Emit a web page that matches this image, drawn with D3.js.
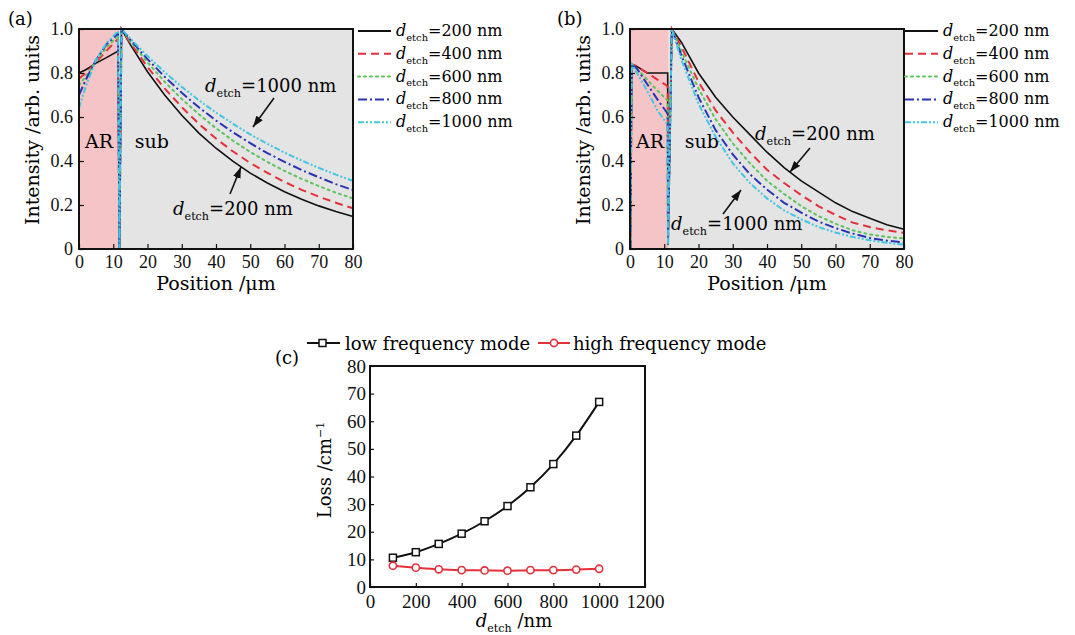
<!DOCTYPE html>
<html>
<head>
<meta charset="utf-8">
<script src="https://cdn.jsdelivr.net/npm/d3@7"></script>
<style>
body { margin: 0; background: #fff; }
</style>
</head>
<body>
<div id="chart"></div>
<script>
//---------------- data ----------------
//legend entries (etch depth)
var etchLabels = ["=200 nm", "=400 nm", "=600 nm", "=800 nm", "=1000 nm"];

//panel (a): position (um) and intensity of each etch depth
var posA = [0, 2, 5, 8, 11.4, 11.8, 12.4, 15, 20, 25, 30, 35, 40, 45, 50, 55, 60, 65, 70, 75, 80];
var a200 = [0.80, 0.815, 0.845, 0.87, 0.90, 0, 1.0, 0.929, 0.806, 0.700, 0.608, 0.527, 0.458, 0.398, 0.345, 0.300, 0.260, 0.226, 0.196, 0.170, 0.148];
var a400 = [0.775, 0.80, 0.85, 0.90, 0.955, 0, 1.0, 0.937, 0.827, 0.730, 0.645, 0.569, 0.502, 0.443, 0.391, 0.346, 0.305, 0.269, 0.238, 0.210, 0.185];
var a600 = [0.745, 0.785, 0.855, 0.915, 0.97, 0, 1.0, 0.945, 0.848, 0.760, 0.682, 0.612, 0.549, 0.492, 0.441, 0.396, 0.355, 0.319, 0.286, 0.256, 0.230];
var a800 = [0.70, 0.77, 0.86, 0.93, 0.98, 0, 1.0, 0.951, 0.863, 0.783, 0.710, 0.644, 0.584, 0.530, 0.481, 0.436, 0.396, 0.359, 0.326, 0.295, 0.268];
var a1000 = [0.64, 0.74, 0.86, 0.935, 0.99, 0, 1.0, 0.956, 0.877, 0.804, 0.737, 0.676, 0.620, 0.569, 0.521, 0.478, 0.438, 0.402, 0.369, 0.338, 0.310];
var arEndA = 11.6;

//panel (b)
var posB = [0.1, 0.5, 2, 5, 8, 11.0, 11.1, 12.2, 15, 20, 25, 30, 35, 40, 45, 50, 55, 60, 65, 70, 75, 80];
var b200 = [0, 0.84, 0.83, 0.80, 0.80, 0.80, 0.02, 1.0, 0.94, 0.80, 0.69, 0.60, 0.52, 0.44, 0.37, 0.31, 0.26, 0.21, 0.17, 0.14, 0.11, 0.09];
var b400 = [0, 0.84, 0.83, 0.80, 0.77, 0.74, 0.02, 1.0, 0.92, 0.76, 0.63, 0.53, 0.44, 0.36, 0.30, 0.245, 0.195, 0.155, 0.12, 0.10, 0.085, 0.073];
var b600 = [0, 0.84, 0.82, 0.77, 0.72, 0.675, 0.02, 1.0, 0.90, 0.73, 0.59, 0.48, 0.39, 0.31, 0.25, 0.195, 0.15, 0.115, 0.085, 0.066, 0.055, 0.048];
var b800 = [0, 0.84, 0.82, 0.75, 0.68, 0.615, 0.02, 1.0, 0.88, 0.69, 0.54, 0.43, 0.34, 0.27, 0.21, 0.165, 0.125, 0.095, 0.07, 0.05, 0.038, 0.03];
var b1000 = [0, 0.84, 0.80, 0.72, 0.63, 0.565, 0.02, 1.0, 0.86, 0.66, 0.51, 0.39, 0.30, 0.23, 0.175, 0.135, 0.10, 0.075, 0.055, 0.04, 0.028, 0.02];
var arEndB = 11.3;

//tick labels
var posTicks = [0, 10, 20, 30, 40, 50, 60, 70, 80];
var intTicks = [0, 0.2, 0.4, 0.6, 0.8, 1.0];

//panel (c): loss vs etch depth
var dEtch = [100, 200, 300, 400, 500, 600, 700, 800, 900, 1000];
var lossLow = [10.6, 12.6, 15.6, 19.3, 23.8, 29.3, 36.1, 44.5, 54.8, 67.0];
var lossHigh = [7.7, 7.0, 6.4, 6.1, 6.0, 5.9, 6.1, 6.1, 6.3, 6.6];
var dTicks = [0, 200, 400, 600, 800, 1000, 1200];
var lossTicks = [0, 10, 20, 30, 40, 50, 60, 70, 80];
var modeLabels = ["low frequency mode", "high frequency mode"];

//---------------- styles ----------------
var colors = ["#111111", "#e4303a", "#5cc35c", "#2b33b3", "#42c6e2"];
var dashes = [null, "8,5", "2,4", "9,3,2,3", "6,2,2,2,2,2"];
var serif = "'DejaVu Serif', serif";
var tickFont = "'Liberation Serif', serif";

var svg = d3.select("#chart").append("svg")
    .attr("width", 1075)
    .attr("height", 635)
    .style("font-family", serif);

//arrow head
svg.append("defs").append("marker")
    .attr("id", "arrow")
    .attr("viewBox", "0 0 10 7")
    .attr("refX", 10).attr("refY", 3.5)
    .attr("markerWidth", 7).attr("markerHeight", 5)
    .attr("orient", "auto")
    .append("path").attr("d", "M0,0L10,3.5L0,7z").attr("fill", "#111");

//"d_etch" text with subscript
function etchText(sel, rest, size) {
    sel.append("tspan").attr("font-style", "italic").text("d");
    sel.append("tspan").attr("font-size", size * 0.62).attr("dy", size * 0.3).text("etch");
    sel.append("tspan").attr("dy", -size * 0.3).text(rest);
}

//intensity panel (a)/(b)
function drawIntensity(left, xs, series, arEnd, legendX, notes) {
    var w = 274, h = 220, top = 29;
    var g = svg.append("g").attr("transform", `translate(${left}, ${top})`);
    var x = d3.scaleLinear().domain([0, 80]).range([0, w]);
    var y = d3.scaleLinear().domain([0, 1]).range([h, 0]);

    g.append("rect").attr("width", x(arEnd)).attr("height", h).attr("fill", "#f5c4c6");
    g.append("rect").attr("x", x(arEnd)).attr("width", w - x(arEnd)).attr("height", h).attr("fill", "#e4e4e4");

    var line = d3.line().x((d, i) => x(xs[i])).y(d => y(d));
    series.forEach(function(s, k) {
        g.append("path")
            .attr("d", line(s))
            .attr("fill", "none")
            .attr("stroke", colors[k])
            .attr("stroke-width", k == 0 ? 1.6 : 2)
            .attr("stroke-dasharray", dashes[k])
            .attr("stroke-linecap", k == 2 ? "round" : "butt");
    });

    //axes with inward ticks
    var xAxis = g.append("g").attr("transform", `translate(0, ${h})`)
        .call(d3.axisBottom(x).tickValues(posTicks).tickSizeInner(-5).tickSizeOuter(0).tickPadding(6));
    var yAxis = g.append("g")
        .call(d3.axisLeft(y).tickValues(intTicks).tickSizeInner(-5).tickSizeOuter(0).tickPadding(6)
            .tickFormat(d => d == 0 ? "0" : d.toFixed(1)));
    [xAxis, yAxis].forEach(function(a) {
        a.select(".domain").remove();
        a.selectAll("text").attr("font-family", tickFont).attr("font-size", 18).attr("fill", "#111");
        a.selectAll("line").attr("stroke", "#111").attr("stroke-width", 1.2);
    });

    g.append("rect").attr("width", w).attr("height", h)
        .attr("fill", "none").attr("stroke", "#111").attr("stroke-width", 2);

    //region labels
    g.append("text").attr("x", 6).attr("y", 119).attr("font-size", 19).text("AR");
    g.append("text").attr("x", x(arEnd) + 16).attr("y", 119).attr("font-size", 19).text("sub");

    //axis titles
    g.append("text")
        .attr("transform", `translate(${-40}, ${101})rotate(-90)`)
        .attr("text-anchor", "middle").attr("font-size", 19)
        .text("Intensity /arb. units");
    g.append("text")
        .attr("x", w / 2).attr("y", 261)
        .attr("text-anchor", "middle").attr("font-size", 19)
        .text("Position /\u03bcm");

    //annotations with arrows
    notes.forEach(function(n) {
        etchText(g.append("text").attr("x", n.tx - left).attr("y", n.ty - top).attr("font-size", 18), n.text, 18);
        g.append("line")
            .attr("x1", n.ax1 - left).attr("y1", n.ay1 - top)
            .attr("x2", n.ax2 - left).attr("y2", n.ay2 - top)
            .attr("stroke", "#111").attr("stroke-width", 1.6)
            .attr("marker-end", "url(#arrow)");
    });

    //legend
    var lg = svg.append("g").attr("transform", `translate(${legendX}, 0)`);
    etchLabels.forEach(function(t, k) {
        var ly = 31 + k * 22.8;
        lg.append("line").attr("x1", 0).attr("x2", 33).attr("y1", ly).attr("y2", ly)
            .attr("stroke", colors[k]).attr("stroke-width", 2)
            .attr("stroke-dasharray", dashes[k])
            .attr("stroke-linecap", k == 2 ? "round" : "butt");
        etchText(lg.append("text").attr("x", 38).attr("y", ly + 5).attr("font-size", 16), t, 16);
    });
}

drawIntensity(79, posA, [a200, a400, a600, a800, a1000], arEndA, 358, [
    {text: "=1000 nm", tx: 205, ty: 92, ax1: 274, ax2: 253, ay1: 98, ay2: 127},
    {text: "=200 nm", tx: 173, ty: 215, ax1: 230, ax2: 241, ay1: 194, ay2: 167}
]);
drawIntensity(630, posB, [b200, b400, b600, b800, b1000], arEndB, 905, [
    {text: "=200 nm", tx: 755, ty: 140, ax1: 810, ax2: 790, ay1: 148, ay2: 172},
    {text: "=1000 nm", tx: 671, ty: 230, ax1: 723, ax2: 741, ay1: 214, ay2: 190}
]);

//panel labels
svg.append("text").attr("x", 8).attr("y", 25).attr("font-size", 18).text("(a)");
svg.append("text").attr("x", 557).attr("y", 25).attr("font-size", 18).text("(b)");
svg.append("text").attr("x", 275).attr("y", 364).attr("font-size", 18).text("(c)");

//---------------- panel (c) ----------------
var cw = 275, ch = 221;
var cg = svg.append("g").attr("transform", `translate(370, 366)`);
var xC = d3.scaleLinear().domain([0, 1200]).range([0, cw]);
var yC = d3.scaleLinear().domain([0, 80]).range([ch, 0]);

var cLine = d3.line().x((d, i) => xC(dEtch[i])).y(d => yC(d)).curve(d3.curveMonotoneX);
cg.append("path").attr("d", cLine(lossLow)).attr("fill", "none").attr("stroke", "#111").attr("stroke-width", 2);
cg.append("path").attr("d", cLine(lossHigh)).attr("fill", "none").attr("stroke", "#e4303a").attr("stroke-width", 2);

cg.selectAll(".sq").data(lossLow).enter().append("rect")
    .attr("x", (d, i) => xC(dEtch[i]) - 3.5)
    .attr("y", d => yC(d) - 3.5)
    .attr("width", 7).attr("height", 7)
    .attr("fill", "#fff").attr("stroke", "#111").attr("stroke-width", 1.5);
cg.selectAll(".ci").data(lossHigh).enter().append("circle")
    .attr("cx", (d, i) => xC(dEtch[i]))
    .attr("cy", d => yC(d))
    .attr("r", 3.6)
    .attr("fill", "#fff").attr("stroke", "#e4303a").attr("stroke-width", 1.6);

var cx = cg.append("g").attr("transform", `translate(0, ${ch})`)
    .call(d3.axisBottom(xC).tickValues(dTicks).tickFormat(d3.format("d")).tickSizeInner(-4).tickSizeOuter(0).tickPadding(8));
var cy = cg.append("g")
    .call(d3.axisLeft(yC).tickValues(lossTicks).tickSizeInner(-4).tickSizeOuter(0).tickPadding(4));
[cx, cy].forEach(function(a) {
    a.select(".domain").remove();
    a.selectAll("text").attr("font-family", tickFont).attr("font-size", 19).attr("fill", "#111");
    a.selectAll("line").attr("stroke", "#111").attr("stroke-width", 1.2);
});
cg.append("rect").attr("width", cw).attr("height", ch)
    .attr("fill", "none").attr("stroke", "#111").attr("stroke-width", 2);

//axis titles (c)
var lossTitle = cg.append("text")
    .attr("transform", `translate(${-39}, ${104})rotate(-90)`)
    .attr("text-anchor", "middle").attr("font-size", 18);
lossTitle.append("tspan").text("Loss /cm");
lossTitle.append("tspan").attr("font-size", 11).attr("dy", -7).text("\u22121");
etchText(cg.append("text").attr("x", 144).attr("y", 261).attr("text-anchor", "middle").attr("font-size", 18), " /nm", 18);

//legend (c)
var cl = svg.append("g");
cl.append("line").attr("x1", 307).attr("x2", 340).attr("y1", 343).attr("y2", 343).attr("stroke", "#111").attr("stroke-width", 2);
cl.append("rect").attr("x", 319).attr("y", 339.5).attr("width", 7).attr("height", 7)
    .attr("fill", "#fff").attr("stroke", "#111").attr("stroke-width", 1.5);
cl.append("text").attr("x", 345).attr("y", 350).attr("font-size", 18).text(modeLabels[0]);
cl.append("line").attr("x1", 538).attr("x2", 570).attr("y1", 343).attr("y2", 343).attr("stroke", "#e4303a").attr("stroke-width", 2);
cl.append("circle").attr("cx", 554).attr("cy", 343).attr("r", 3.6)
    .attr("fill", "#fff").attr("stroke", "#e4303a").attr("stroke-width", 1.6);
cl.append("text").attr("x", 573).attr("y", 350).attr("font-size", 18).text(modeLabels[1]);
</script>
</body>
</html>
